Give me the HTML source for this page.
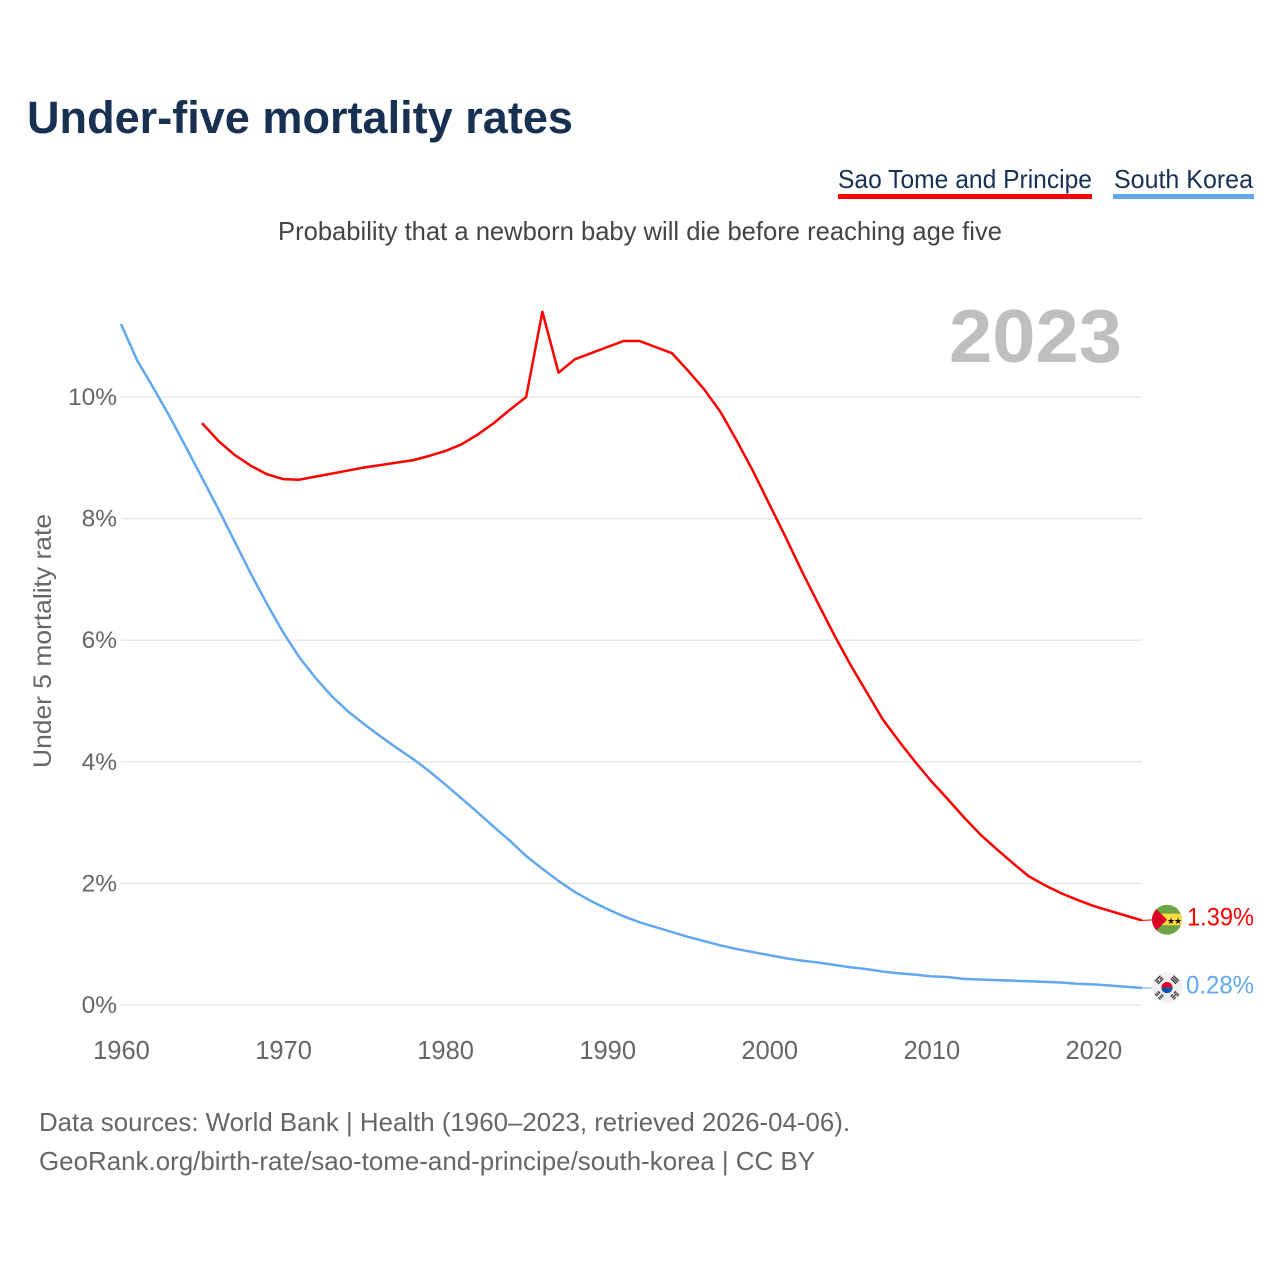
<!DOCTYPE html>
<html lang="en">
<head>
<meta charset="utf-8">
<title>Under-five mortality rates</title>
<style>
html,body{margin:0;padding:0;background:#fff;width:1280px;height:1280px;overflow:hidden}
svg{display:block}
text{font-family:"Liberation Sans",sans-serif}
</style>
</head>
<body>
<svg id="chart" width="1280" height="1280" viewBox="0 0 1280 1280" xmlns="http://www.w3.org/2000/svg">
  <defs>
    <clipPath id="clip-st"><circle cx="0" cy="0" r="15"/></clipPath>
  </defs>
  <rect width="1280" height="1280" fill="#fff"/>
  <text x="27" y="133" font-size="45" font-weight="700" fill="#183153" textLength="546" lengthAdjust="spacingAndGlyphs">Under-five mortality rates</text>

  <g>
    <text x="838" y="188" font-size="26" fill="#183153" textLength="254" lengthAdjust="spacingAndGlyphs">Sao Tome and Principe</text>
    <rect x="838" y="194" width="254" height="5" fill="#ff0000"/>
  </g>
  <g>
    <text x="1114" y="188" font-size="26" fill="#183153" textLength="139" lengthAdjust="spacingAndGlyphs">South Korea</text>
    <rect x="1113" y="194" width="141" height="5" fill="#62a8ee"/>
  </g>

  <text x="278" y="240" font-size="26" fill="#444" textLength="724" lengthAdjust="spacingAndGlyphs">Probability that a newborn baby will die before reaching age five</text>
  <text x="949" y="362" font-size="75" font-weight="700" fill="#bfbfbf" textLength="173" lengthAdjust="spacingAndGlyphs">2023</text>
  <text transform="translate(51 641) rotate(-90)" text-anchor="middle" font-size="25" fill="#666" textLength="254" lengthAdjust="spacingAndGlyphs">Under 5 mortality rate</text>

  <g id="grid"></g>
  <g id="yticks"></g>
  <g id="xticks"></g>
  <g id="series"></g>

  <g id="flag-st">
    <g clip-path="url(#clip-st)">
      <rect x="-15" y="-15" width="30" height="30" fill="#6da544"/>
      <rect x="-15" y="-6" width="30" height="11.5" fill="#ffda44"/>
      <path d="M-15 -15 L0 0 L-15 15 Z" fill="#d80027"/>
    </g>
    <text x="4" y="4.5" font-size="9" fill="#111" text-anchor="middle" style="font-family:'DejaVu Sans',sans-serif">★</text>
    <text x="11" y="4.5" font-size="9" fill="#111" text-anchor="middle" style="font-family:'DejaVu Sans',sans-serif">★</text>
  </g>
  <g id="flag-kr">
    <circle cx="0" cy="0" r="15.5" fill="#f0f0f0"/>
    <path d="M-5.6 0 A5.6 5.6 0 0 1 5.6 0 Z" fill="#d80027"/>
    <path d="M-5.6 0 A5.6 5.6 0 0 0 5.6 0 Z" fill="#0052b4"/>
    <g stroke="#333" stroke-width="1.3" fill="none">
      <g transform="rotate(45) translate(0 -11)"><path d="M-3.8 -2H3.8M-3.8 0H3.8M-3.8 2H3.8"/></g>
      <g transform="rotate(-45) translate(0 -11)"><path d="M-3.8 -2H3.8M-3.8 0H-0.8M0.8 0H3.8M-3.8 2H3.8"/></g>
      <g transform="rotate(45) translate(0 11)"><path d="M-3.8 -2H-0.8M0.8 -2H3.8M-3.8 0H-0.8M0.8 0H3.8M-3.8 2H-0.8M0.8 2H3.8"/></g>
      <g transform="rotate(-45) translate(0 11)"><path d="M-3.8 -2H-0.8M0.8 -2H3.8M-3.8 0H3.8M-3.8 2H-0.8M0.8 2H3.8"/></g>
    </g>
  </g>

  <text x="39" y="1131" font-size="26" fill="#666" textLength="811" lengthAdjust="spacingAndGlyphs">Data sources: World Bank | Health (1960–2023, retrieved 2026-04-06).</text>
  <text x="39" y="1170" font-size="26" fill="#666" textLength="776" lengthAdjust="spacingAndGlyphs">GeoRank.org/birth-rate/sao-tome-and-principe/south-korea | CC BY</text>
</svg>
<script>
const firstYear = 1960;
const koreaValues = [11.2,10.6,10.15,9.68,9.18,8.67,8.16,7.63,7.1,6.6,6.13,5.72,5.38,5.08,4.83,4.62,4.42,4.23,4.05,3.85,3.63,3.4,3.17,2.93,2.7,2.45,2.24,2.04,1.86,1.71,1.58,1.46,1.36,1.28,1.2,1.12,1.05,0.98,0.92,0.87,0.82,0.77,0.73,0.7,0.66,0.62,0.59,0.55,0.52,0.5,0.47,0.46,0.43,0.42,0.41,0.4,0.39,0.38,0.37,0.35,0.34,0.32,0.3,0.28];
const saoTomeValues = [null,null,null,null,null,9.57,9.28,9.05,8.87,8.73,8.65,8.64,8.69,8.74,8.79,8.84,8.88,8.92,8.96,9.03,9.11,9.22,9.38,9.57,9.79,10.0,11.4,10.4,10.62,10.72,10.82,10.92,10.92,10.82,10.72,10.43,10.12,9.75,9.28,8.78,8.24,7.7,7.14,6.61,6.09,5.6,5.15,4.7,4.34,4.0,3.68,3.39,3.09,2.81,2.57,2.34,2.12,1.97,1.84,1.73,1.63,1.55,1.47,1.39];
const yTickValues = [0,2,4,6,8,10];
const xTickYears = [1960,1970,1980,1990,2000,2010,2020];

const NS = 'http://www.w3.org/2000/svg';
const xScale = function (year) { return 121 + (year - 1960) * (1142 - 121) / 63; };
const yScale = function (v) { return 1005 - v * 60.8; };

function make(tag, attrs, parent, text) {
  const el = document.createElementNS(NS, tag);
  Object.keys(attrs).forEach(function (k) { el.setAttribute(k, attrs[k]); });
  if (text !== undefined) el.textContent = text;
  parent.appendChild(el);
  return el;
}

const grid = document.getElementById('grid');
const yticks = document.getElementById('yticks');
yTickValues.forEach(function (v) {
  const line = make('line', {x1: 121, x2: 1142, y1: yScale(v), y2: yScale(v), stroke: '#e9e9e9', 'stroke-width': 1.5}, grid);
  
  
  const label = make('text', {x: 117, y: yScale(v) + 8, 'text-anchor': 'end', 'font-size': 24.5, fill: '#666'}, yticks, v + '%');
  
  
});

const xticks = document.getElementById('xticks');
xTickYears.forEach(function (yr) {
  const label = make('text', {x: xScale(yr) + 0.5, y: 1059, 'text-anchor': 'middle', 'font-size': 25.5, fill: '#666'}, xticks, String(yr));
  
  
});

function buildPath(values) {
  let d = '';
  values.forEach(function (v, i) {
    if (v === null) return;
    d += (d ? 'L' : 'M') + xScale(firstYear + i).toFixed(2) + ' ' + yScale(v).toFixed(2);
  });
  return d;
}

const series = document.getElementById('series');

const koreaLine = make('path', {d: buildPath(koreaValues), fill: 'none', stroke: '#62a8ee', 'stroke-width': 2.5, 'stroke-linejoin': 'round'}, series);



const saoTomeLine = make('path', {d: buildPath(saoTomeValues), fill: 'none', stroke: '#ff0000', 'stroke-width': 2.5, 'stroke-linejoin': 'round'}, series);



const lastKorea = koreaValues[koreaValues.length - 1];
const lastSaoTome = saoTomeValues[saoTomeValues.length - 1];

const koreaConnector = make('line', {x1: 1142, x2: 1153, y1: yScale(lastKorea), y2: yScale(lastKorea), stroke: '#62a8ee', 'stroke-width': 1}, series);



const saoTomeConnector = make('line', {x1: 1142, x2: 1153, y1: yScale(lastSaoTome), y2: yScale(lastSaoTome) - 0.6, stroke: '#ff0000', 'stroke-width': 1}, series);



document.getElementById('flag-st').setAttribute('transform', 'translate(1167 ' + (yScale(lastSaoTome) - 0.8) + ')');
document.getElementById('flag-kr').setAttribute('transform', 'translate(1167 ' + (yScale(lastKorea) - 0.4) + ')');

const koreaValueLabel = make('text', {x: 1254, y: yScale(lastKorea) + 5.5, 'text-anchor': 'end', 'font-size': 25, fill: '#62a8ee', textLength: 68, lengthAdjust: 'spacingAndGlyphs'}, series, lastKorea.toFixed(2) + '%');



const saoTomeValueLabel = make('text', {x: 1254, y: yScale(lastSaoTome) + 5, 'text-anchor': 'end', 'font-size': 25, fill: '#ff0000', textLength: 67, lengthAdjust: 'spacingAndGlyphs'}, series, lastSaoTome.toFixed(2) + '%');


</script>
</body>
</html>
